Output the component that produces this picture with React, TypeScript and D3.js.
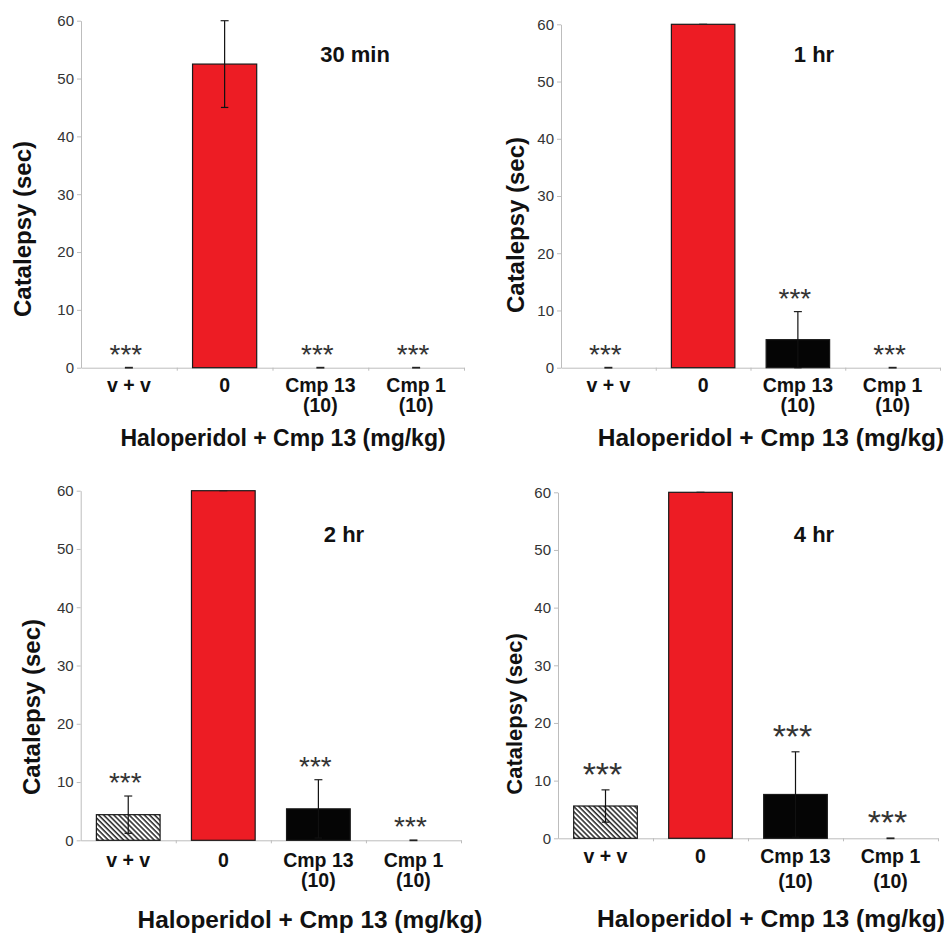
import React, { useEffect, useRef } from "react";
import * as d3 from "d3";

// x categories (multi-line labels)
const categories = [["v + v"], ["0"], ["Cmp 13", "(10)"], ["Cmp 1", "(10)"]];
const timePoints = ["30 min", "1 hr", "2 hr", "4 hr"];
const yTicks = [0, 10, 20, 30, 40, 50, 60];

// catalepsy (sec), mean and SEM per group
const mean30min = [0, 52.5, 0, 0];
const sem30min = [0, 7.5, 0, 0];
const sig30min = ["***", "", "***", "***"];

const mean1hr = [0, 60, 4.9, 0];
const sem1hr = [0, 0, 4.9, 0];
const sig1hr = ["***", "", "***", "***"];

const mean2hr = [4.4, 60, 5.4, 0];
const sem2hr = [3.2, 0, 5.0, 0];
const sig2hr = ["***", "", "***", "***"];

const mean4hr = [5.6, 60, 7.6, 0];
const sem4hr = [2.8, 0, 7.4, 0];
const sig4hr = ["***", "", "***", "***"];

const xTitle = "Haloperidol + Cmp 13 (mg/kg)";
const yTitle = "Catalepsy (sec)";

const barFills = ["url(#hatch)", "#ED1C24", "#050505", "#050505"];
const FONT = "'Liberation Sans', Arial, sans-serif";

// panel layout
const panels = [
  { time: timePoints[0], mean: mean30min, sem: sem30min, sig: sig30min,
    left: 81, right: 464, top: 20.7, bottom: 367.7,
    titleX: 355, titleY: 62, yLabelX: 23, yLabelY: 229, yLabelSize: 24,
    tickY: 392, tickGap: 20, xTitleX: 283, xTitleY: 446, xTitleSize: 23, starSize: 28 },
  { time: timePoints[1], mean: mean1hr, sem: sem1hr, sig: sig1hr,
    left: 561, right: 940, top: 24.3, bottom: 367.7,
    titleX: 814, titleY: 62, yLabelX: 516, yLabelY: 225, yLabelSize: 24,
    tickY: 392, tickGap: 20, xTitleX: 771, xTitleY: 446, xTitleSize: 24.5, starSize: 28 },
  { time: timePoints[2], mean: mean2hr, sem: sem2hr, sig: sig2hr,
    left: 80.7, right: 461, top: 490.7, bottom: 840.3,
    titleX: 344, titleY: 542, yLabelX: 32, yLabelY: 707, yLabelSize: 24,
    tickY: 867, tickGap: 20, xTitleX: 310, xTitleY: 928, xTitleSize: 24.4, starSize: 28 },
  { time: timePoints[3], mean: mean4hr, sem: sem4hr, sig: sig4hr,
    left: 558, right: 938, top: 492.3, bottom: 838.3,
    titleX: 814, titleY: 542, yLabelX: 514, yLabelY: 714, yLabelSize: 22,
    tickY: 863, tickGap: 25, xTitleX: 771, xTitleY: 927, xTitleSize: 24.6, starSize: 34 },
];

const App = () => {
  const ref = useRef<SVGSVGElement>(null);

  useEffect(() => {
    const svg = d3.select(ref.current);
    svg.selectAll("*").remove();

    // hatch pattern for vehicle bars
    const defs = svg.append("defs");
    const pat = defs.append("pattern")
      .attr("id", "hatch")
      .attr("patternUnits", "userSpaceOnUse")
      .attr("width", 3.6)
      .attr("height", 3.6)
      .attr("patternTransform", "rotate(-45)");
    pat.append("rect").attr("width", 3.6).attr("height", 3.6).attr("fill", "#fff");
    pat.append("line")
      .attr("x1", 1).attr("y1", 0).attr("x2", 1).attr("y2", 3.6)
      .attr("stroke", "#111").attr("stroke-width", 1.4);

    panels.forEach((p) => {
      const g = svg.append("g");

      const y = d3.scaleLinear().domain([0, 60]).range([p.bottom, p.top]);
      const x = d3.scaleBand<number>()
        .domain(categories.map((_, i) => i))
        .range([p.left, p.right])
        .paddingInner(0.33)
        .paddingOuter(0.165);
      const xEdge = d3.scaleLinear().domain([0, categories.length]).range([p.left, p.right]);

      // y axis
      const ya = g.append("g")
        .attr("transform", `translate(${p.left},0)`)
        .call(d3.axisLeft(y).tickValues(yTicks).tickSize(4).tickSizeOuter(0).tickPadding(3));
      ya.select(".domain").attr("stroke", "#bdbdbd");
      ya.selectAll(".tick line").attr("stroke", "#bdbdbd");
      ya.selectAll(".tick text")
        .attr("fill", "#333")
        .style("font-family", FONT)
        .style("font-size", "15px");

      // x axis (ticks between categories)
      const xa = g.append("g")
        .attr("transform", `translate(0,${p.bottom})`)
        .call(d3.axisBottom(xEdge).tickValues([1, 2, 3, 4]).tickSize(3).tickSizeOuter(0).tickFormat(() => ""));
      xa.select(".domain").attr("stroke", "#bdbdbd");
      xa.selectAll(".tick line").attr("stroke", "#bdbdbd");

      // bars
      g.selectAll(".bar")
        .data(p.mean)
        .enter().append("rect")
        .attr("x", (_, i) => x(i)!)
        .attr("y", (d) => y(d))
        .attr("width", x.bandwidth())
        .attr("height", (d) => p.bottom - y(d))
        .attr("fill", (_, i) => barFills[i])
        .attr("stroke", (d) => (d > 0 ? "#1a1a1a" : "none"))
        .attr("stroke-width", 1.2);

      // error bars
      const cx = (i: number) => x(i)! + x.bandwidth() / 2;
      p.mean.forEach((m, i) => {
        const e = p.sem[i];
        const hi = Math.min(60, m + e);
        const lo = Math.max(0, m - e);
        if (e > 0) {
          g.append("line")
            .attr("x1", cx(i)).attr("x2", cx(i))
            .attr("y1", y(hi)).attr("y2", y(lo))
            .attr("stroke", "#111").attr("stroke-width", 1.2);
          g.append("line")
            .attr("x1", cx(i) - 3.7).attr("x2", cx(i) + 3.7)
            .attr("y1", y(lo)).attr("y2", y(lo))
            .attr("stroke", "#111").attr("stroke-width", 1.2);
        }
        g.append("line")
          .attr("x1", cx(i) - 4).attr("x2", cx(i) + 4)
          .attr("y1", y(hi)).attr("y2", y(hi))
          .attr("stroke", "#222").attr("stroke-width", m === 0 ? 1.8 : 1.2);

        if (p.sig[i]) {
          g.append("text")
            .attr("x", cx(i) - 3)
            .attr("y", y(m + e) - 4)
            .attr("text-anchor", "middle")
            .attr("fill", "#333")
            .style("font-family", FONT)
            .style("font-size", `${p.starSize}px`)
            .text(p.sig[i]);
        }
      });

      // category labels
      categories.forEach((lines, i) => {
        const t = g.append("text")
          .attr("text-anchor", "middle")
          .attr("fill", "#111")
          .style("font-family", FONT)
          .style("font-weight", "bold")
          .style("font-size", "19.5px");
        lines.forEach((ln, j) => {
          t.append("tspan")
            .attr("x", cx(i))
            .attr("y", p.tickY + j * p.tickGap)
            .text(ln);
        });
      });

      // time label
      g.append("text")
        .attr("x", p.titleX)
        .attr("y", p.titleY)
        .attr("text-anchor", "middle")
        .attr("fill", "#111")
        .style("font-family", FONT)
        .style("font-weight", "bold")
        .style("font-size", "22px")
        .text(p.time);

      // axis titles
      g.append("text")
        .attr("transform", `translate(${p.yLabelX},${p.yLabelY}) rotate(-90)`)
        .attr("text-anchor", "middle")
        .attr("dy", "0.35em")
        .attr("fill", "#111")
        .style("font-family", FONT)
        .style("font-weight", "bold")
        .style("font-size", `${p.yLabelSize}px`)
        .text(yTitle);

      g.append("text")
        .attr("x", p.xTitleX)
        .attr("y", p.xTitleY)
        .attr("text-anchor", "middle")
        .attr("fill", "#111")
        .style("font-family", FONT)
        .style("font-weight", "bold")
        .style("font-size", `${p.xTitleSize}px`)
        .text(xTitle);
    });
  }, []);

  return (
    <svg
      ref={ref}
      width={948}
      height={933}
      style={{ position: "absolute", left: 0, top: 0, background: "#fff" }}
    />
  );
};

export default App;
